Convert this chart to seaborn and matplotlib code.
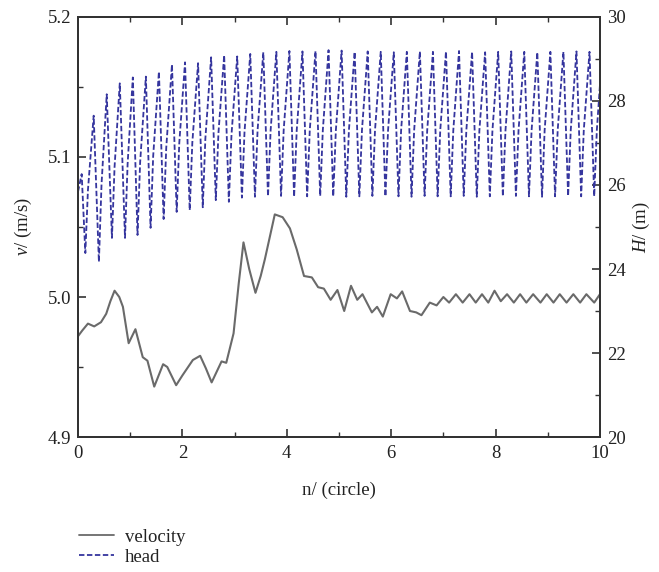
import numpy as np
import pandas as pd
import matplotlib
matplotlib.use("Agg")
import matplotlib.pyplot as plt
from matplotlib.ticker import MultipleLocator
from matplotlib.lines import Line2D
import seaborn as sns

# ---------------- data ----------------
vel_n = [0.00, 0.08, 0.19, 0.31, 0.44, 0.54, 0.62, 0.70, 0.79, 0.86, 0.97, 1.10,
         1.24, 1.33, 1.46, 1.63, 1.71, 1.88, 2.00, 2.20, 2.34, 2.45, 2.56, 2.75,
         2.84, 2.98, 3.08, 3.17, 3.28, 3.40, 3.50, 3.58, 3.77, 3.92, 4.06, 4.19,
         4.33, 4.48, 4.60, 4.71, 4.84, 4.97, 5.10, 5.23, 5.35, 5.45, 5.63, 5.73,
         5.84, 5.99, 6.11, 6.21, 6.36, 6.48, 6.58, 6.74, 6.87, 7.00, 7.11, 7.24,
         7.37, 7.50, 7.62, 7.74, 7.86, 7.98, 8.10, 8.22, 8.35, 8.47, 8.59, 8.72,
         8.86, 8.98, 9.11, 9.23, 9.36, 9.49, 9.62, 9.74, 9.89, 10.00]
vel_v = [4.972, 4.976, 4.981, 4.979, 4.982, 4.988, 4.997, 5.0045, 5.000, 4.993, 4.967, 4.977,
         4.957, 4.9545, 4.936, 4.952, 4.950, 4.937, 4.944, 4.955, 4.958, 4.949, 4.939, 4.954,
         4.953, 4.974, 5.010, 5.039, 5.020, 5.003, 5.015, 5.027, 5.059, 5.057, 5.049, 5.034,
         5.015, 5.014, 5.007, 5.006, 4.998, 5.005, 4.990, 5.008, 4.998, 5.002, 4.989, 4.993,
         4.986, 5.002, 4.999, 5.004, 4.990, 4.989, 4.987, 4.996, 4.994, 5.000, 4.996, 5.002,
         4.996, 5.002, 4.996, 5.002, 4.996, 5.0045, 4.997, 5.002, 4.996, 5.002, 4.996, 5.002,
         4.996, 5.002, 4.996, 5.002, 4.996, 5.002, 4.996, 5.002, 4.996, 5.002]

head_peak_n = [0.07, 0.30, 0.55, 0.80, 1.05, 1.30, 1.55, 1.80, 2.05, 2.30,
               2.55, 2.80, 3.05, 3.30, 3.55, 3.80, 4.05, 4.30, 4.55, 4.80,
               5.05, 5.30, 5.55, 5.80, 6.05, 6.30, 6.55, 6.80, 7.05, 7.30,
               7.55, 7.80, 8.05, 8.30, 8.55, 8.80, 9.05, 9.30, 9.55, 9.80]
head_peak_H = [26.26, 27.65, 28.16, 28.42, 28.56, 28.58, 28.70, 28.87, 28.92, 28.90,
               29.04, 29.09, 29.06, 29.12, 29.16, 29.17, 29.19, 29.18, 29.19, 29.21,
               29.20, 29.17, 29.18, 29.17, 29.16, 29.17, 29.18, 29.17, 29.18, 29.19,
               29.17, 29.16, 29.17, 29.18, 29.17, 29.16, 29.17, 29.17, 29.18, 29.17]
head_trough_n = [0.14, 0.40, 0.65, 0.90, 1.14, 1.39, 1.64, 1.89, 2.14, 2.39,
                 2.64, 2.89, 3.14, 3.39, 3.64, 3.89, 4.14, 4.39, 4.64, 4.89,
                 5.14, 5.39, 5.64, 5.89, 6.14, 6.39, 6.64, 6.89, 7.14, 7.39,
                 7.64, 7.89, 8.14, 8.39, 8.64, 8.89, 9.14, 9.39, 9.64, 9.89]
head_trough_H = [24.38, 24.17, 24.74, 24.74, 24.81, 24.98, 25.19, 25.36, 25.40, 25.47,
                 25.64, 25.60, 25.70, 25.72, 25.73, 25.74, 25.72, 25.73, 25.74, 25.73,
                 25.72, 25.73, 25.74, 25.73, 25.73, 25.72, 25.74, 25.73, 25.73, 25.74,
                 25.72, 25.73, 25.73, 25.74, 25.73, 25.72, 25.73, 25.74, 25.73, 25.73]
head_shoulder_n = [0.19, 0.45, 0.70, 0.95, 1.19, 1.44, 1.69, 1.94, 2.19, 2.44,
                   2.69, 2.94, 3.19, 3.44, 3.69, 3.94, 4.19, 4.44, 4.69, 4.94,
                   5.19, 5.44, 5.69, 5.94, 6.19, 6.44, 6.69, 6.94, 7.19, 7.44,
                   7.69, 7.94, 8.19, 8.44, 8.69, 8.94, 9.19, 9.44, 9.69, 9.94]
head_shoulder_H = [25.88, 26.01, 26.43, 26.50, 26.54, 26.69, 26.88, 27.00, 27.01, 27.11,
                   27.23, 27.19, 27.27, 27.30, 27.30, 27.30, 27.30, 27.30, 27.30, 27.30,
                   27.30, 27.30, 27.30, 27.30, 27.30, 27.30, 27.30, 27.30, 27.30, 27.30,
                   27.30, 27.30, 27.30, 27.30, 27.30, 27.30, 27.30, 27.30, 27.30, 27.30]
head_ends_n = [0.00, 10.00]
head_ends_H = [25.84, 28.38]

x_ticks = [0, 2, 4, 6, 8, 10]
v_ticks = [4.9, 5.0, 5.1, 5.2]
H_ticks = [20, 22, 24, 26, 28, 30]

# ---------------- tables ----------------
vel_df = pd.DataFrame({"n": vel_n, "v": vel_v})
head_df = pd.DataFrame({
    "n": head_peak_n + head_trough_n + head_shoulder_n + head_ends_n,
    "H": head_peak_H + head_trough_H + head_shoulder_H + head_ends_H,
}).sort_values("n").reset_index(drop=True)

# ---------------- style ----------------
sns.set_theme(style="ticks")
plt.rcParams["font.family"] = ["Liberation Serif", "DejaVu Serif"]
plt.rcParams["mathtext.fontset"] = "custom"
plt.rcParams["mathtext.rm"] = "Liberation Serif"
plt.rcParams["mathtext.it"] = "Liberation Serif:italic"
plt.rcParams["axes.linewidth"] = 1.4

text_col = "#222222"
spine_col = "#333333"
vel_col = "#6a6a6a"
head_col = "#35359e"
fs = 13.5

fig = plt.figure(figsize=(6.59, 5.72), dpi=100)
ax = fig.add_axes([0.1184, 0.236, 0.792, 0.7343])
ax2 = ax.twinx()

sns.lineplot(data=vel_df, x="n", y="v", ax=ax, color=vel_col, lw=1.5,
             estimator=None, sort=False)
sns.lineplot(data=head_df, x="n", y="H", ax=ax2, color=head_col, lw=1.3,
             estimator=None, sort=False, linestyle=(0, (3.0, 1.4)))

ax.set_xlim(0, 10)
ax.set_ylim(4.9, 5.2)
ax2.set_ylim(20, 30)

ax.set_xticks(x_ticks)
ax.set_xticklabels([str(t) for t in x_ticks])
ax.set_yticks(v_ticks)
ax.set_yticklabels([f"{t:.1f}" for t in v_ticks])
ax2.set_yticks(H_ticks)
ax2.set_yticklabels([str(t) for t in H_ticks])
ax.xaxis.set_minor_locator(MultipleLocator(1))
ax.yaxis.set_minor_locator(MultipleLocator(0.05))
ax2.yaxis.set_minor_locator(MultipleLocator(1))

ax.tick_params(axis="x", which="both", direction="in", top=True, bottom=True,
               colors=spine_col, labelcolor=text_col, labelsize=fs, pad=6)
ax.tick_params(axis="y", which="both", direction="in", left=True, right=False,
               colors=spine_col, labelcolor=text_col, labelsize=fs, pad=5)
ax2.tick_params(axis="y", which="both", direction="in", right=True, left=False,
                colors=spine_col, labelcolor=text_col, labelsize=fs, pad=5)
for a in (ax, ax2):
    a.tick_params(which="major", length=6, width=1.2)
    a.tick_params(which="minor", length=3.5, width=1.0)
    for s in a.spines.values():
        s.set_color(spine_col)
        s.set_linewidth(1.4)
        s.set_visible(True)

ax.set_xlabel("n/ (circle)", fontsize=fs, color=text_col, labelpad=14)
ax.set_ylabel(r"$v$/ (m/s)", fontsize=fs, color=text_col, labelpad=10)
ax2.set_ylabel(r"$H$/ (m)", fontsize=fs, color=text_col, labelpad=4)

handles = [Line2D([], [], color=vel_col, lw=1.3),
           Line2D([], [], color=head_col, lw=1.3, linestyle=(0, (3.0, 1.4)))]
fig.legend(handles, ["velocity", "head"], loc="upper left",
           bbox_to_anchor=(0.12, 0.076), frameon=False, fontsize=fs,
           handlelength=1.85, handletextpad=0.6, labelspacing=0.15,
           borderaxespad=0.0, borderpad=0.0, labelcolor=text_col)

fig.savefig("out.png", dpi=100, facecolor="white")
